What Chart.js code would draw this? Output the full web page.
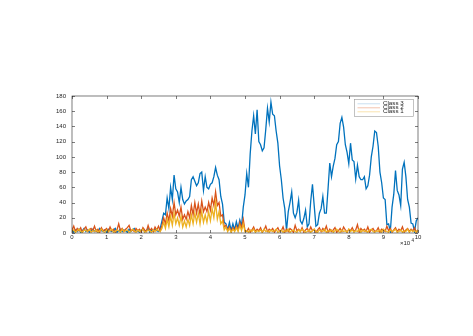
<!DOCTYPE html>
<html>
<head>
<meta charset="utf-8">
<script src="https://cdn.jsdelivr.net/npm/chart.js@4.4.1/dist/chart.umd.min.js"></script>
<style>
  html, body { margin: 0; padding: 0; background: #fff; }
  canvas { display: block; }
</style>
</head>
<body>
<canvas id="plot" width="473" height="336"></canvas>
<script>
// --- DATOS (una muestra cada 500 unidades, 0 .. 100000) ---
const xStep = 500;
const xTicks = [0, 1, 2, 3, 4, 5, 6, 7, 8, 9, 10];   // x 10^4
const yTicks = [0, 20, 40, 60, 80, 100, 120, 140, 160, 180];
const seriesNames = ['Class 3', 'Class 2', 'Class 1'];

const classThree = [
    3, 1, 4, 2, 5, 1, 3, 6, 2, 4,
    1, 3, 5, 2, 4, 1, 6, 3, 2, 4,
    1, 5, 3, 2, 4, 6, 1, 3, 5, 2,
    4, 3, 1, 5, 2, 4, 6, 2, 3, 1,
    4, 5, 2, 3, 6, 1, 4, 2, 5, 3,
    2, 6, 16, 26, 24, 46, 32, 60, 44, 76,
    58, 54, 40, 60, 44, 38, 42, 44, 48, 70,
    74, 68, 62, 66, 78, 80, 56, 74, 60, 58,
    64, 66, 74, 86, 76, 70, 48, 38, 14, 12,
    4, 14, 3, 12, 4, 15, 6, 17, 9, 34,
    50, 78, 60, 104, 134, 154, 130, 162, 120, 116,
    108, 112, 136, 164, 146, 172, 156, 154, 134, 118,
    88, 70, 46, 32, 3, 28, 40, 54, 26, 20,
    27, 43, 16, 12, 19, 30, 8, 12, 42, 64,
    36, 9, 11, 26, 32, 48, 26, 26, 58, 92,
    74, 88, 98, 116, 120, 144, 152, 139, 116, 106,
    91, 118, 96, 94, 71, 89, 74, 70, 70, 74,
    58, 62, 76, 100, 114, 134, 132, 114, 80, 66,
    46, 44, 11, 12, 2, 34, 51, 82, 56, 50,
    36, 84, 93, 74, 44, 34, 13, 12, 2, 16,
    20
];

const classTwo = [
    4, 9, 2, 6, 3, 7, 1, 5, 8, 2,
    4, 6, 3, 9, 2, 5, 1, 7, 3, 4,
    6, 2, 8, 3, 5, 1, 4, 12, 3, 6,
    2, 5, 7, 10, 3, 4, 2, 6, 3, 5,
    1, 7, 4, 2, 10, 3, 6, 2, 8, 4,
    9, 3, 10, 20, 12, 26, 16, 32, 22, 40,
    24, 30, 22, 34, 18, 24, 18, 28, 20, 36,
    24, 40, 26, 38, 24, 42, 28, 34, 28, 40,
    30, 46, 36, 54, 36, 40, 22, 24, 8, 10,
    3, 8, 2, 7, 3, 9, 4, 14, 6, 18,
    3, 2, 6, 1, 4, 8, 2, 5, 3, 7,
    1, 4, 9, 2, 5, 3, 6, 1, 4, 7,
    2, 3, 8, 1, 5, 2, 6, 4, 1, 10,
    3, 5, 2, 7, 1, 4, 6, 2, 8, 3,
    5, 1, 4, 7, 2, 6, 3, 9, 1, 5,
    2, 4, 7, 1, 3, 6, 2, 8, 4, 1,
    5, 3, 7, 2, 4, 11, 1, 6, 3, 5,
    2, 8, 1, 4, 6, 2, 3, 7, 1, 5,
    4, 2, 9, 3, 6, 1, 4, 7, 2, 5,
    3, 8, 1, 4, 6, 2, 5, 3, 7, 1,
    4
];

const classOne = [
    2, 4, 1, 3, 5, 2, 1, 4, 3, 2,
    5, 1, 3, 2, 4, 1, 3, 5, 2, 1,
    4, 2, 3, 5, 1, 2, 4, 3, 1, 5,
    2, 3, 4, 1, 2, 5, 3, 1, 4, 2,
    3, 5, 1, 2, 4, 3, 1, 4, 2, 5,
    3, 2, 6, 14, 6, 18, 8, 22, 10, 26,
    12, 20, 10, 22, 8, 16, 8, 18, 10, 24,
    12, 26, 14, 26, 12, 28, 14, 24, 14, 28,
    16, 32, 20, 40, 18, 28, 12, 16, 4, 8,
    2, 6, 1, 5, 2, 7, 2, 10, 3, 12,
    2, 3, 1, 4, 2, 5, 1, 3, 2, 4,
    1, 5, 2, 3, 1, 4, 2, 3, 5, 1,
    2, 4, 1, 3, 2, 5, 1, 3, 4, 2,
    1, 4, 2, 5, 3, 1, 2, 4, 1, 3,
    5, 2, 1, 4, 3, 2, 5, 1, 3, 2,
    4, 1, 3, 5, 2, 1, 4, 2, 3, 1,
    5, 2, 4, 1, 3, 2, 5, 1, 4, 2,
    3, 1, 4, 5, 2, 1, 3, 2, 4, 1,
    5, 3, 2, 1, 4, 2, 3, 5, 1, 2,
    4, 1, 3, 2, 5, 1, 4, 2, 3, 1,
    4
];

// Colores estilo MATLAB
const lineColors = ['#0072BD', '#D95319', '#EDB120'];
const legendColors = ['#c9dff0', '#f2c3ae', '#f9e3b0'];
const axisColor = '#262626';
const fontFamily = '"Liberation Sans", Arial, sans-serif';

function toPoints(values) {
    return values.map((v, i) => ({ x: i * xStep, y: v }));
}

// Caja, marcas hacia dentro, leyenda y multiplicador x10^4
const matlabAxes = {
    id: 'matlabAxes',
    afterDraw(chart) {
        const ctx = chart.ctx;
        const area = chart.chartArea;
        const sx = chart.scales.x;
        const sy = chart.scales.y;
        const tick = 3;

        ctx.save();
        ctx.strokeStyle = axisColor;
        ctx.lineWidth = 0.6;
        ctx.strokeRect(area.left, area.top, area.right - area.left, area.bottom - area.top);

        ctx.beginPath();
        xTicks.forEach(t => {
            const px = Math.round(sx.getPixelForValue(t * 10000)) + 0.5;
            ctx.moveTo(px, area.bottom); ctx.lineTo(px, area.bottom - tick);
            ctx.moveTo(px, area.top); ctx.lineTo(px, area.top + tick);
        });
        yTicks.forEach(t => {
            const py = Math.round(sy.getPixelForValue(t)) + 0.5;
            ctx.moveTo(area.left, py); ctx.lineTo(area.left + tick, py);
            ctx.moveTo(area.right, py); ctx.lineTo(area.right - tick, py);
        });
        ctx.stroke();

        // Multiplicador del eje x
        ctx.fillStyle = axisColor;
        ctx.textBaseline = 'alphabetic';
        ctx.textAlign = 'left';
        ctx.font = '6px ' + fontFamily;
        ctx.fillText('\u00d710', area.right - 18, area.bottom + 12);
        ctx.font = '4.5px ' + fontFamily;
        ctx.fillText('4', area.right - 6.5, area.bottom + 9);

        // Leyenda (texto pequeño, algo ensanchado como en la figura)
        const lx = 354, ly = 99, lw = 59, lh = 17;
        ctx.fillStyle = '#fff';
        ctx.fillRect(lx, ly, lw, lh);
        ctx.strokeStyle = '#9a9a9a';
        ctx.lineWidth = 0.6;
        ctx.strokeRect(lx + 0.5, ly + 0.5, lw, lh);
        ctx.textBaseline = 'middle';
        seriesNames.forEach((name, i) => {
            const cy = ly + 4.8 + i * 4;
            ctx.strokeStyle = legendColors[i];
            ctx.lineWidth = 1;
            ctx.beginPath();
            ctx.moveTo(lx + 3.5, cy); ctx.lineTo(lx + 26, cy);
            ctx.stroke();
            ctx.save();
            ctx.translate(lx + 29, cy + 0.3);
            ctx.scale(1.35, 1);
            ctx.font = '4.6px ' + fontFamily;
            ctx.fillStyle = axisColor;
            ctx.fillText(name, 0, 0);
            ctx.restore();
        });
        ctx.restore();
    }
};

const chart = new Chart(document.getElementById('plot').getContext('2d'), {
    type: 'line',
    data: {
        datasets: [
            { label: seriesNames[0], data: toPoints(classThree), borderColor: lineColors[0], order: 3 },
            { label: seriesNames[1], data: toPoints(classTwo), borderColor: lineColors[1], order: 2 },
            { label: seriesNames[2], data: toPoints(classOne), borderColor: lineColors[2], order: 1 }
        ]
    },
    options: {
        responsive: false,
        animation: false,
        parsing: false,
        elements: {
            line: { borderWidth: 1.3, tension: 0, fill: false },
            point: { radius: 0 }
        },
        layout: { padding: { left: 0, right: 55, top: 96, bottom: 0 } },
        plugins: { legend: { display: false }, tooltip: { enabled: false } },
        scales: {
            x: {
                type: 'linear',
                min: 0,
                max: 100000,
                grid: { display: false, drawTicks: false },
                border: { display: false },
                afterFit: s => { s.height = 103; },
                afterBuildTicks: s => { s.ticks = xTicks.map(v => ({ value: v * 10000 })); },
                ticks: {
                    callback: v => String(v / 10000),
                    color: axisColor,
                    font: { family: fontFamily, size: 6 },
                    maxRotation: 0,
                    padding: 1
                }
            },
            y: {
                min: 0,
                max: 180,
                grid: { display: false, drawTicks: false },
                border: { display: false },
                afterFit: s => { s.width = 72; },
                afterBuildTicks: s => { s.ticks = yTicks.map(v => ({ value: v })); },
                ticks: {
                    color: axisColor,
                    font: { family: fontFamily, size: 6 },
                    padding: 6
                }
            }
        }
    },
    plugins: [matlabAxes]
});
</script>
</body>
</html>
